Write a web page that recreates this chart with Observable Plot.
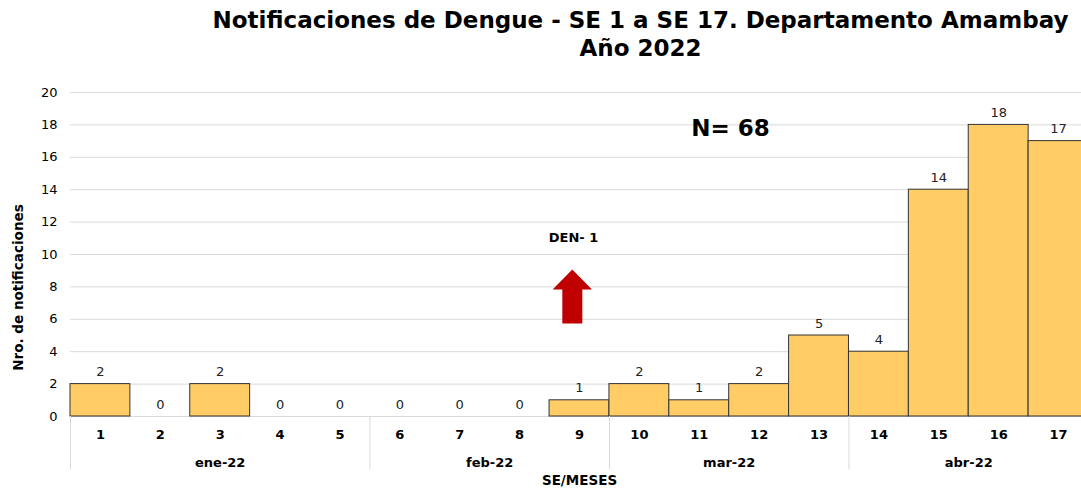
<!DOCTYPE html>
<html>
<head>
<meta charset="utf-8">
<script src="https://cdn.jsdelivr.net/npm/d3@7"></script>
<script src="https://cdn.jsdelivr.net/npm/@observablehq/plot@0.6"></script>
<style>
  html, body { margin: 0; padding: 0; background: #fff; overflow: hidden; }
  #title { width: 1081px; box-sizing: border-box; padding: 6px 0 0 200px; height: 62px;
    font: bold 23px "DejaVu Sans", Verdana, sans-serif; line-height: 28px; text-align: center; color: #000; }
  svg { display: block; }
</style>
</head>
<body>
<div id="title">Notificaciones de Dengue - SE 1 a SE 17. Departamento Amambay<br>Año 2022</div>
<div id="chart"></div>
<script>
const weeks = [1, 2, 3, 4, 5, 6, 7, 8, 9, 10, 11, 12, 13, 14, 15, 16, 17];
const cases = [2, 0, 2, 0, 0, 0, 0, 0, 1, 2, 1, 2, 5, 4, 14, 18, 17];
const months = ["ene-22", "feb-22", "mar-22", "abr-22"];
const monthFirstWeek = [1, 6, 10, 14];
const monthLastWeek = [5, 9, 13, 17];
const yTicks = [0, 2, 4, 6, 8, 10, 12, 14, 16, 18, 20];
const totalLabel = ["N= 68"];
const totalPos = [{x: 11.52, y: 17.8}];
const serotype = ["DEN- 1"];
const serotypePos = [{x: 8.9, y: 11}];
const arrowPos = [{x: 8.88, y: 7.4}];

const data = weeks.map((w, i) => ({week: w, value: cases[i]}));
const monthData = months.map((m, i) => ({label: m, first: monthFirstWeek[i], last: monthLastWeek[i]}));

const arrowSymbol = {
  draw(ctx) {
    ctx.moveTo(0, -27);
    ctx.lineTo(19.7, -7);
    ctx.lineTo(10, -7);
    ctx.lineTo(10, 27);
    ctx.lineTo(-10, 27);
    ctx.lineTo(-10, -7);
    ctx.lineTo(-19.7, -7);
    ctx.closePath();
  }
};

const font = '"DejaVu Sans", Verdana, sans-serif';

const chart = Plot.plot({
  width: 1081,
  height: 426,
  marginLeft: 70,
  marginRight: 0,
  marginTop: 30,
  marginBottom: 72,
  style: {fontFamily: font, fontSize: "13px", color: "#000", background: "#fff", overflow: "hidden"},
  x: {type: "linear", domain: [0.5, 17.5], range: [70, 1088], axis: null},
  y: {domain: [0, 20], axis: null},
  marks: [
    Plot.gridY(yTicks, {stroke: "#d9d9d9", strokeOpacity: 1, x1: 0.5, x2: 17.5}),
    Plot.axisY(yTicks, {tickSize: 0, tickPadding: 13, fontSize: 13, label: null}),
    Plot.rectY(data, {x1: d => d.week - 0.5, x2: d => d.week + 0.5, y: "value", fill: "#ffcc66", stroke: "#333333", strokeWidth: 1}),
    Plot.text(data, {x: "week", y: "value", text: d => String(d.value), dy: -12, fontSize: 13, fill: "#222"}),
    Plot.text(data, {x: "week", text: d => String(d.week), frameAnchor: "bottom", dy: 22, fontWeight: "bold", fontSize: 13}),
    Plot.ruleX(monthData, {x: d => d.first - 0.5, y1: 0, y2: -3.3, stroke: "#d9d9d9"}),
    Plot.text(monthData, {x: d => (d.first + d.last) / 2, text: "label", frameAnchor: "bottom", dy: 50, fontWeight: "bold", fontSize: 13}),
    Plot.text(["SE/MESES"], {x: () => 9, frameAnchor: "bottom", dy: 68, fontWeight: "bold", fontSize: 13.5}),
    Plot.text(["Nro. de notificaciones"], {frameAnchor: "left", textAnchor: "middle", rotate: -90, dx: -52, dy: 33, fontWeight: "bold", fontSize: 13.5}),
    Plot.text(totalLabel, {x: () => totalPos[0].x, y: () => totalPos[0].y, text: d => d, fontWeight: "bold", fontSize: 23}),
    Plot.text(serotype, {x: () => serotypePos[0].x, y: () => serotypePos[0].y, text: d => d, fontWeight: "bold", fontSize: 13}),
    Plot.dot(arrowPos, {x: "x", y: "y", symbol: arrowSymbol, fill: "#c00000", stroke: null, r: 20})
  ]
});
document.getElementById("chart").appendChild(chart);
</script>
</body>
</html>
